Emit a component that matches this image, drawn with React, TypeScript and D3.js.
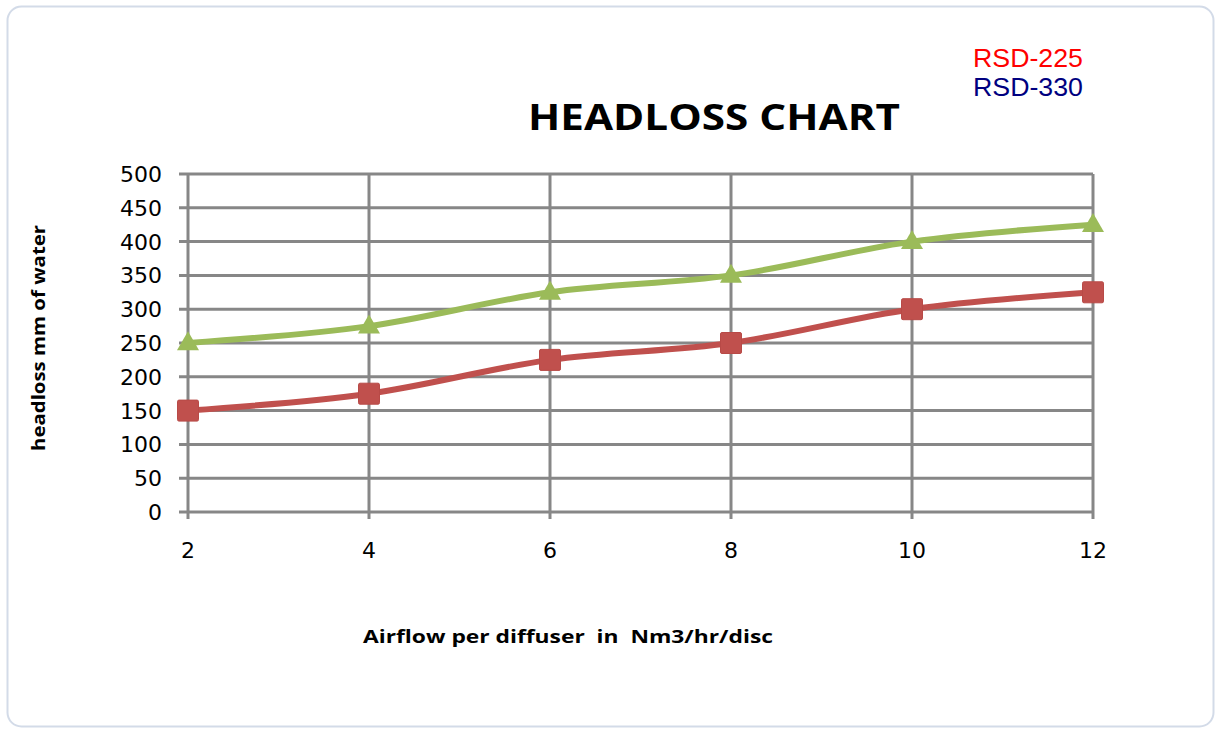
import React from "react";
import * as d3 from "d3";

const airflow = [2, 4, 6, 8, 10, 12];
const rsd225 = [150, 175, 225, 250, 300, 325];
const rsd330 = [250, 275, 325, 350, 400, 425];
const yTicks = [0, 50, 100, 150, 200, 250, 300, 350, 400, 450, 500];
const legendLabels = ["RSD-225", "RSD-330"];

const W = 1215;
const H = 729;
const margin = { top: 174, right: 122, bottom: 217, left: 188 };
const innerW = W - margin.left - margin.right;
const innerH = H - margin.top - margin.bottom;

const gridColor = "#878787";
const redSeries = "#C0504D";
const greenSeries = "#9BBB59";
const labelFont = "Open Sans, DejaVu Sans, sans-serif";

const App: React.FC = () => {
  const x = d3.scaleLinear().domain([2, 12]).range([0, innerW]);
  const y = d3.scaleLinear().domain([0, 500]).range([innerH, 0]);

  const line = d3
    .line<number>()
    .x((_, i) => x(airflow[i]))
    .y((d) => y(d))
    .curve(d3.curveCatmullRom.alpha(0.5));

  const tri = d3.symbol().type(d3.symbolTriangle).size(210)() || "";

  return (
    <svg width={W} height={H} style={{ position: "absolute", left: 0, top: 0, background: "#fff" }}>
      {/* chart frame */}
      <rect x={7.5} y={6.5} width={1206} height={720} rx={14} fill="#fff" stroke="#D3DBE8" strokeWidth={2} />

      <text x={714} y={130} textAnchor="middle" fontFamily={labelFont} fontWeight="bold" fontSize={35} textLength={372} lengthAdjust="spacingAndGlyphs" fill="#000">
        HEADLOSS CHART
      </text>

      {legendLabels.map((l, i) => (
        <text key={l} x={973} y={67 + i * 29} fontFamily="Liberation Sans, Arial, sans-serif" fontSize={26} textLength={110} lengthAdjust="spacingAndGlyphs" fill={i === 0 ? "#FF0000" : "#000080"}>
          {l}
        </text>
      ))}

      <g transform={`translate(${margin.left},${margin.top})`}>
        {/* horizontal grid + ticks */}
        {yTicks.map((t) => (
          <g key={t}>
            <line x1={-9} x2={innerW} y1={y(t)} y2={y(t)} stroke={gridColor} strokeWidth={3} />
            <text x={-26} y={y(t)} dy="0.36em" textAnchor="end" fontFamily="DejaVu Sans, sans-serif" fontSize={22} fill="#000">
              {t}
            </text>
          </g>
        ))}
        {/* vertical grid + ticks */}
        {airflow.map((t) => (
          <g key={t}>
            <line x1={x(t)} x2={x(t)} y1={0} y2={innerH + 7} stroke={gridColor} strokeWidth={3} />
            <text x={x(t)} y={innerH + 46} textAnchor="middle" fontFamily="DejaVu Sans, sans-serif" fontSize={22} fill="#000">
              {t}
            </text>
          </g>
        ))}

        <path d={line(rsd225) || ""} fill="none" stroke={redSeries} strokeWidth={6} />
        <path d={line(rsd330) || ""} fill="none" stroke={greenSeries} strokeWidth={6} />

        {rsd225.map((v, i) => (
          <rect key={i} x={x(airflow[i]) - 10.5} y={y(v) - 10.5} width={21} height={21} rx={1.5} fill={redSeries} stroke="#B84A47" strokeWidth={1} />
        ))}
        {rsd330.map((v, i) => (
          <path key={i} d={tri} transform={`translate(${x(airflow[i])},${y(v) + 1})`} fill={greenSeries} />
        ))}
      </g>

      <text
        transform={`translate(45,${margin.top + innerH / 2 - 5}) rotate(-90)`}
        textAnchor="middle"
        fontFamily={labelFont}
        fontWeight="bold"
        fontSize={18}
        textLength={226}
        lengthAdjust="spacingAndGlyphs"
        fill="#000"
      >
        headloss mm of water
      </text>
      <text x={568} y={643} textAnchor="middle" fontFamily={labelFont} fontWeight="bold" fontSize={18} textLength={410} lengthAdjust="spacingAndGlyphs" fill="#000" style={{ whiteSpace: "pre" }}>
        {"Airflow per diffuser  in  Nm3/hr/disc"}
      </text>
    </svg>
  );
};

export default App;
